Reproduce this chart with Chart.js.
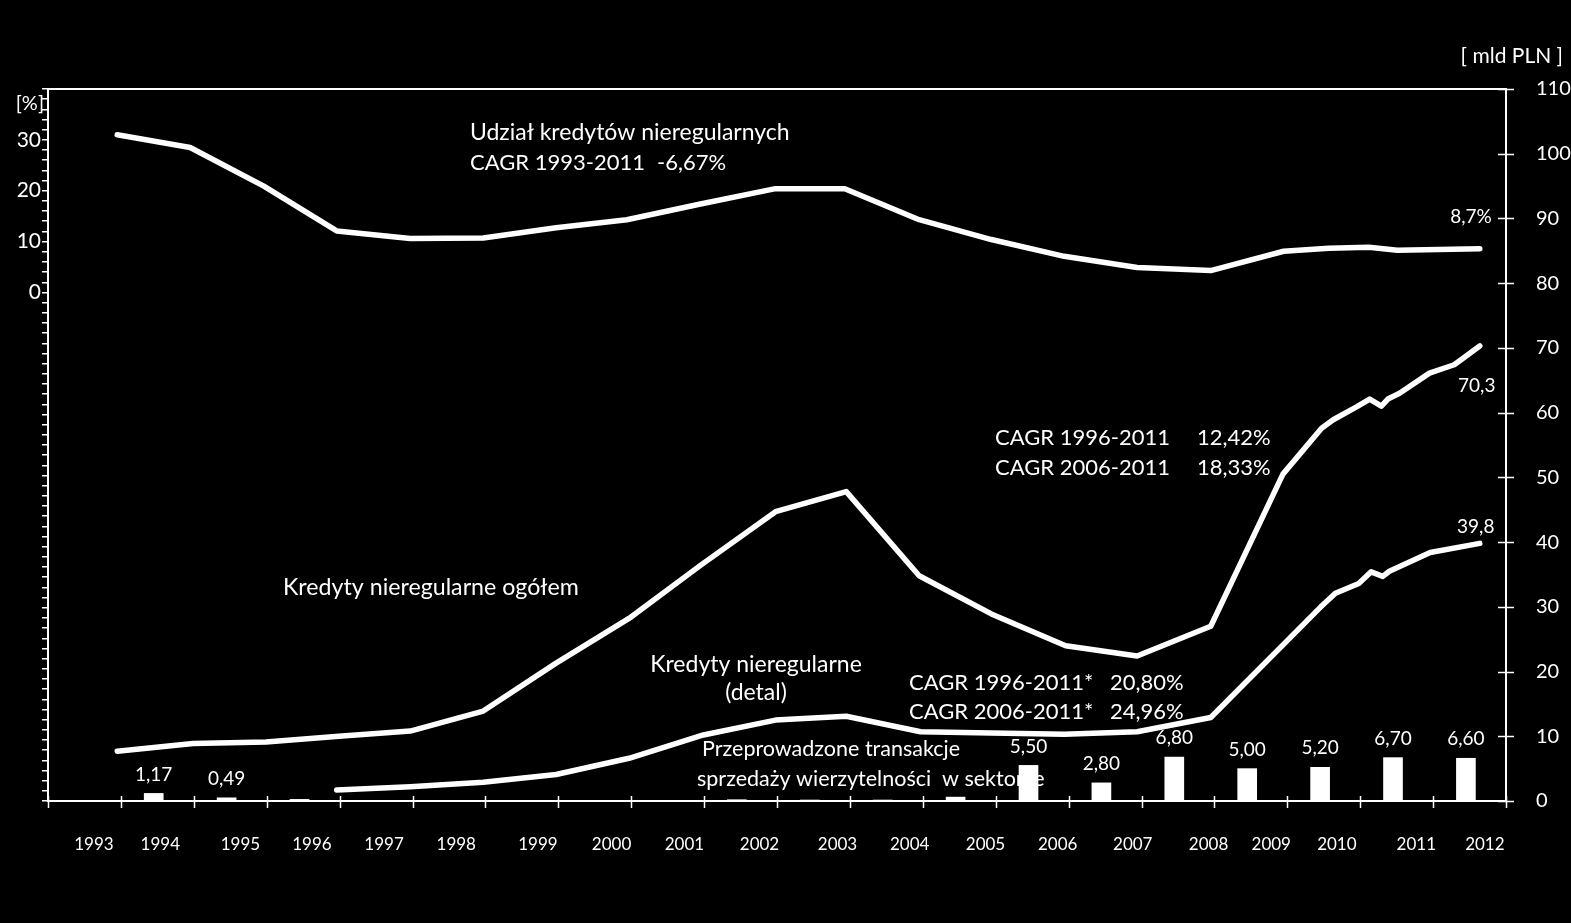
<!DOCTYPE html>
<html>
<head>
<meta charset="utf-8">
<script src="https://cdn.jsdelivr.net/npm/chart.js@4.4.0/dist/chart.umd.min.js"></script>
<style>
  html, body { margin: 0; padding: 0; background: #000; }
</style>
</head>
<body>
<canvas id="nplChart" width="1571" height="923"></canvas>
<script>
const FONT = 'Lato, "Open Sans", sans-serif';

// year labels under the axis and where they sit (slot units, 20 slots)
const yearLabels = ['1993','1994','1995','1996','1997','1998','1999','2000','2001','2002',
                    '2003','2004','2005','2006','2007','2008','2009','2010','2011','2012'];
const yearLabelPos = [0.63, 1.54, 2.64, 3.62, 4.61, 5.60, 6.72, 7.73, 8.73, 9.76,
                      10.83, 11.82, 12.86, 13.85, 14.88, 15.92, 16.78, 17.68, 18.77, 19.71];

// Udział kredytów nieregularnych [%]
const shareX = [0.95, 1.95, 2.96, 3.96, 4.97, 5.97, 6.97, 7.94, 8.95, 9.98, 10.93, 11.95,
                12.94, 13.94, 14.94, 15.95, 16.95, 17.57, 18.12, 18.51, 19.64];
const shareValues = [31.0, 28.5, 20.9, 12.1, 10.6, 10.7, 12.7, 14.3, 17.4, 20.4, 20.4, 14.3,
                     10.4, 7.1, 4.9, 4.3, 8.1, 8.7, 8.9, 8.3, 8.6];

// Kredyty nieregularne ogółem [mld PLN]
const totalX = [0.95, 1.99, 2.99, 3.99, 4.97, 5.97, 6.97, 7.97, 8.95, 9.98, 10.95, 11.95,
                12.94, 13.96, 14.94, 15.95, 16.94, 17.47, 17.63, 17.95, 18.13, 18.29, 18.38,
                18.54, 18.95, 19.29, 19.64];
const totalValues = [7.7, 8.9, 9.1, 10.0, 10.8, 13.9, 21.3, 28.2, 36.4, 44.7, 47.8, 34.8,
                     28.9, 24.0, 22.4, 27.0, 50.5, 57.6, 58.9, 60.9, 62.1, 61.0, 62.1,
                     63.0, 66.1, 67.4, 70.3];

// Kredyty nieregularne (detal) [mld PLN]
const retailX = [3.96, 4.97, 5.97, 6.97, 7.97, 8.99, 9.98, 10.95, 11.97, 12.94, 13.94, 14.94,
                 15.95, 17.46, 17.66, 17.98, 18.15, 18.31, 18.40, 18.96, 19.64];
const retailValues = [1.7, 2.2, 2.9, 4.1, 6.6, 10.2, 12.5, 13.1, 10.7, 10.5, 10.3, 10.7,
                      12.9, 30.0, 32.1, 33.6, 35.4, 34.7, 35.5, 38.4, 39.8];

// Przeprowadzone transakcje sprzedaży wierzytelności [mld PLN]
const saleX = [1.45, 2.45, 3.45, 9.45, 10.45, 11.45, 12.45, 13.45, 14.45, 15.45, 16.45, 17.45, 18.45, 19.45];
const saleValues = [1.17, 0.49, 0.25, 0.2, 0.15, 0.15, 0.6, 5.5, 2.8, 6.8, 5.0, 5.2, 6.7, 6.6];
const saleLabels = ['1,17', '0,49', '', '', '', '', '', '5,50', '2,80', '6,80', '5,00', '5,20', '6,70', '6,60'];

const toPoints = (xs, ys) => xs.map((x, i) => ({ x: x, y: ys[i] }));

const lineStyle = {
    type: 'line',
    borderColor: '#ffffff',
    borderWidth: 5.5,
    borderCapStyle: 'round',
    borderJoinStyle: 'round',
    pointRadius: 0,
    tension: 0,
    fill: false
};

function text(ctx, str, x, y, size, align) {
    ctx.font = size + 'px ' + FONT;
    ctx.textAlign = align || 'left';
    ctx.textBaseline = 'middle';
    ctx.fillText(str, x, y);
}

const decorPlugin = {
    id: 'decor',
    beforeDatasetsDraw(chart) {
        const ctx = chart.ctx;
        ctx.save();
        ctx.fillStyle = '#ffffff';
        text(ctx, 'Udział kredytów nieregularnych', 470, 133, 23);
        text(ctx, 'CAGR 1993-2011', 470, 163, 22);
        text(ctx, '-6,67%', 657, 163, 22);
        text(ctx, 'CAGR 1996-2011', 995, 438, 22);
        text(ctx, '12,42%', 1197, 438, 22);
        text(ctx, 'CAGR 2006-2011', 995, 468, 22);
        text(ctx, '18,33%', 1197, 468, 22);
        text(ctx, 'Kredyty nieregularne ogółem', 283, 588, 23.2);
        text(ctx, 'Kredyty nieregularne', 756, 665, 23, 'center');
        text(ctx, '(detal)', 756, 693, 23, 'center');
        text(ctx, 'CAGR 1996-2011*', 909, 683, 22);
        text(ctx, '20,80%', 1110, 683, 22);
        text(ctx, 'CAGR 2006-2011*', 909, 712, 22);
        text(ctx, '24,96%', 1110, 712, 22);
        text(ctx, 'Przeprowadzone transakcje', 702, 749, 21.5);
        text(ctx, 'sprzedaży wierzytelności', 697, 779, 21.5);
        text(ctx, 'w sektorze', 942, 779, 21.5);
        text(ctx, '[ mld PLN ]', 1563, 56, 21, 'right');
        text(ctx, '[%]', 44, 104, 20, 'right');
        ctx.restore();
    },
    afterDraw(chart) {
        const ctx = chart.ctx;
        const area = chart.chartArea;
        const xs = chart.scales.x;
        const yr = chart.scales.y;
        ctx.save();
        ctx.strokeStyle = '#ffffff';
        ctx.fillStyle = '#ffffff';
        ctx.lineWidth = 2;
        // top edge of the frame
        ctx.beginPath();
        ctx.moveTo(area.left, area.top);
        ctx.lineTo(area.right, area.top);
        ctx.stroke();
        // crossing tick marks on the x axis and the right axis
        ctx.lineWidth = 1.5;
        ctx.beginPath();
        for (let k = 0; k <= 20; k++) {
            const px = Math.round(xs.getPixelForValue(k)) + 0.5;
            ctx.moveTo(px, area.bottom - 5);
            ctx.lineTo(px, area.bottom + 7);
        }
        yr.ticks.forEach(t => {
            const py = Math.round(yr.getPixelForValue(t.value)) + 0.5;
            ctx.moveTo(area.right - 8, py);
            ctx.lineTo(area.right + 8, py);
        });
        ctx.stroke();

        // values above the bars
        const bars = chart.getDatasetMeta(3).data;
        bars.forEach((bar, i) => {
            if (saleLabels[i]) text(ctx, saleLabels[i], bar.x, bar.y - 19, 19, 'center');
        });
        // end-of-series labels
        const shareEnd = chart.getDatasetMeta(0).data[shareX.length - 1];
        const totalEnd = chart.getDatasetMeta(1).data[totalX.length - 1];
        const retailEnd = chart.getDatasetMeta(2).data[retailX.length - 1];
        text(ctx, '8,7%', shareEnd.x + 12, shareEnd.y - 32, 19, 'right');
        text(ctx, '70,3', totalEnd.x - 3, totalEnd.y + 40, 19, 'center');
        text(ctx, '39,8', retailEnd.x - 4, retailEnd.y - 17, 19, 'center');
        ctx.restore();
    }
};

const chart = new Chart(document.getElementById('nplChart'), {
    type: 'line',
    data: {
        datasets: [
            Object.assign({ label: 'Udział kredytów nieregularnych', data: toPoints(shareX, shareValues), yAxisID: 'yPct' }, lineStyle),
            Object.assign({ label: 'Kredyty nieregularne ogółem', data: toPoints(totalX, totalValues), yAxisID: 'y' }, lineStyle),
            Object.assign({ label: 'Kredyty nieregularne (detal)', data: toPoints(retailX, retailValues), yAxisID: 'y' }, lineStyle),
            {
                type: 'bar',
                label: 'Transakcje sprzedaży wierzytelności',
                data: toPoints(saleX, saleValues),
                yAxisID: 'y',
                backgroundColor: '#ffffff',
                borderWidth: 0,
                barThickness: 19
            }
        ]
    },
    options: {
        responsive: false,
        animation: false,
        layout: { padding: { top: 89, left: 0, right: 0, bottom: 0 } },
        plugins: {
            legend: { display: false },
            tooltip: { enabled: false }
        },
        scales: {
            x: {
                type: 'linear',
                position: 'bottom',
                min: 0,
                max: 20,
                offset: false,
                grid: { display: false },
                border: { color: '#ffffff', width: 2 },
                afterBuildTicks: s => { s.ticks = yearLabelPos.map(v => ({ value: v })); },
                afterFit: s => { s.height = 122; },
                ticks: {
                    color: '#ffffff',
                    font: { family: FONT, size: 17 },
                    padding: 25,
                    autoSkip: false,
                    maxRotation: 0,
                    callback: (v, i) => yearLabels[i]
                }
            },
            yPct: {
                type: 'linear',
                position: 'left',
                min: -100,
                max: 40,
                grid: { drawOnChartArea: false, color: '#ffffff', lineWidth: 1.5, tickLength: 6 },
                border: { color: '#ffffff', width: 2 },
                afterBuildTicks: s => {
                    const t = [];
                    for (let v = -100; v <= 40; v += 2) t.push({ value: v });
                    s.ticks = t;
                },
                afterFit: s => { s.width = 48; },
                ticks: {
                    color: '#ffffff',
                    font: { family: FONT, size: 21 },
                    padding: 1,
                    autoSkip: false,
                    callback: v => (v >= 0 && v <= 30 && v % 10 === 0) ? String(v) : ''
                }
            },
            y: {
                type: 'linear',
                position: 'right',
                min: 0,
                max: 110,
                grid: { display: false },
                border: { color: '#ffffff', width: 2 },
                afterFit: s => { s.width = 65; },
                ticks: {
                    stepSize: 10,
                    maxTicksLimit: 20,
                    color: '#ffffff',
                    font: { family: FONT, size: 20 },
                    padding: 22
                }
            }
        }
    },
    plugins: [decorPlugin]
});
</script>
</body>
</html>
